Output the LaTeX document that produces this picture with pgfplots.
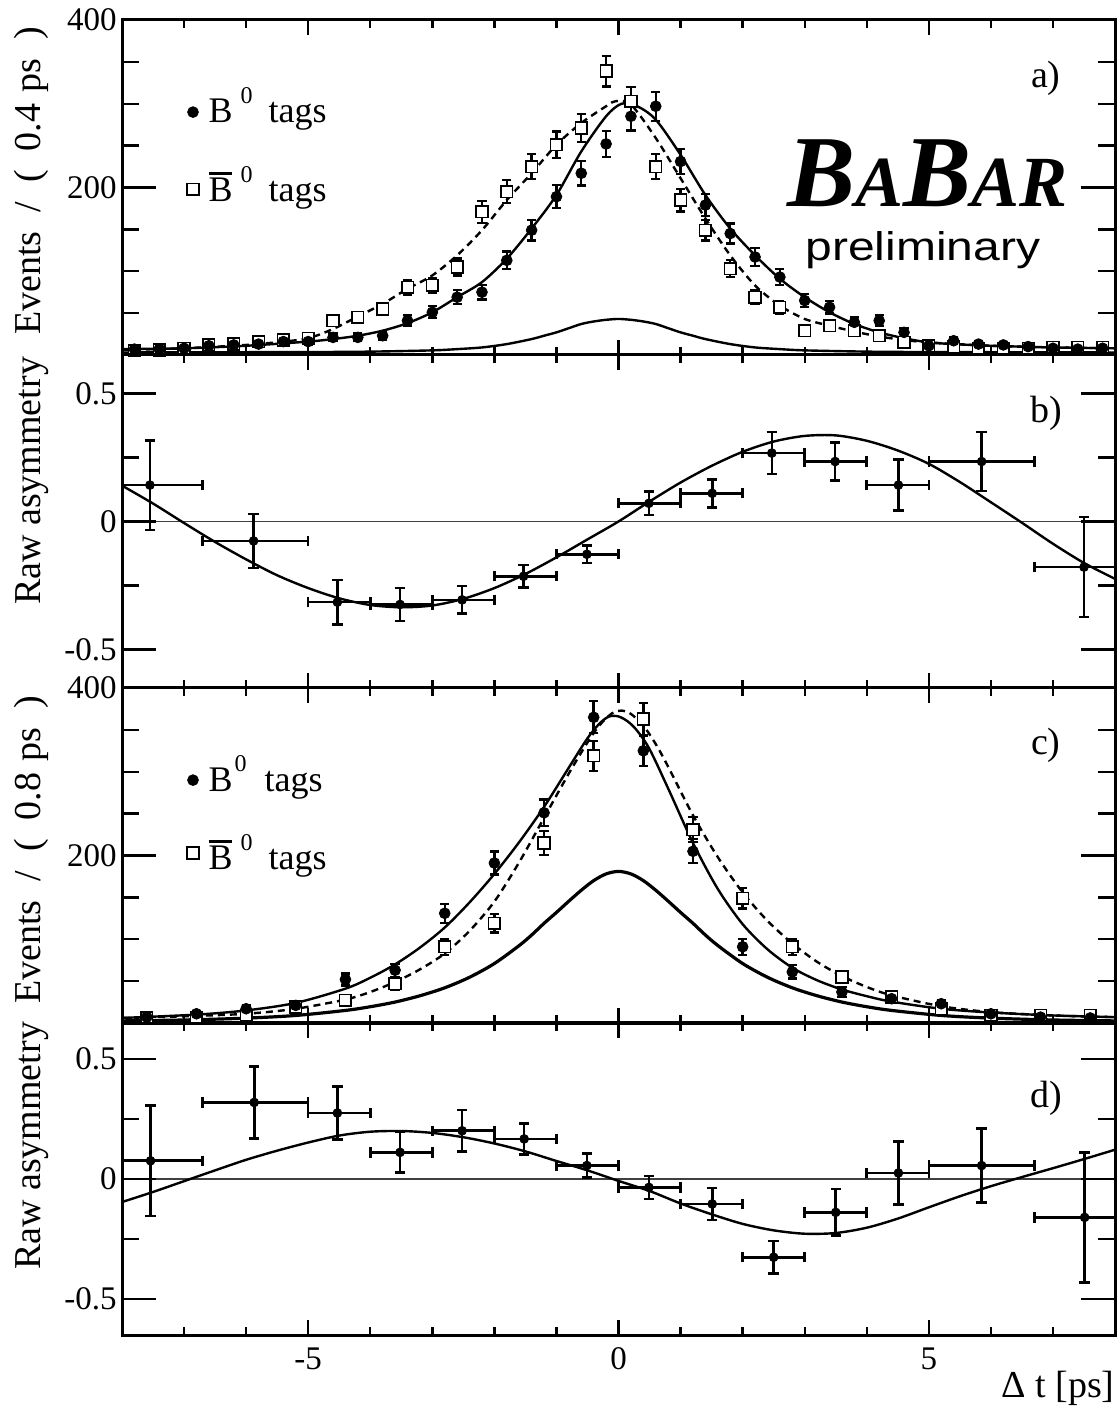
\documentclass[border=0pt]{standalone}
\usepackage{fontspec}
\setmainfont{Liberation Serif}
\newfontfamily\sansfont{Liberation Sans}
\usepackage{pgfplots}
\pgfplotsset{compat=1.18}
\newcommand\ticfont{\fontsize{16.5}{19}\selectfont}
\newcommand\lblfont{\fontsize{19}{22}\selectfont}
\newcommand\legfont{\fontsize{18}{21}\selectfont}
\newcommand\supz{\raisebox{0.55em}{\fontsize{12}{12}\selectfont 0}}
\newcommand\Bbar{\rlap{\rule[0.75em]{0.64em}{0.075em}}B}
\pgfplotsset{
  mainax/.style={scale only axis, width=496.5pt, xmin=-8, xmax=8, anchor=south west,
    xtick={-5,0,5}, minor xtick={-7,-6,-4,-3,-2,-1,1,2,3,4,6,7}, xticklabels={,,},
    ytick=\empty, major tick length=7.5pt, minor tick length=4pt,
    tick style={line width=1.2pt, black}, axis line style={line width=1.5pt},
    tick label style={font=\ticfont}},
  yax/.style={scale only axis, width=496.5pt, xmin=-8, xmax=8, anchor=south west,
    xtick=\empty, minor xtick={}, axis line style={draw=none},
    major tick length=17pt, minor tick length=8.5pt,
    tick style={line width=1.2pt, black},
    yticklabel style={font=\ticfont, inner sep=2.5pt}},
  curve/.style={line width=1.2pt, black, smooth, no markers},
  dcurve/.style={line width=1.2pt, black, smooth, no markers, dash pattern=on 3.5pt off 2.5pt},
  fpts/.style={only marks, mark=*, mark size=2.7pt, black,
    error bars/.cd, y dir=both, y explicit,
    error bar style={line width=1.2pt, black}, error mark options={rotate=90, mark size=2.3pt, line width=1.1pt, black}},
  opts/.style={only marks, mark=square*, mark size=2.9pt, black, mark options={fill=white, line width=0.8pt},
    error bars/.cd, y dir=both, y explicit,
    error bar style={line width=1.2pt, black}, error mark options={rotate=90, mark size=2.3pt, line width=1.1pt, black}},
  apts/.style={only marks, mark=*, mark size=2.2pt, black,
    error bars/.cd, y dir=both, y explicit, x dir=both, x explicit,
    error bar style={line width=1.3pt, black}, error mark options={rotate=90, mark size=2.6pt, line width=1.3pt, black}},
}
\begin{document}
\begin{tikzpicture}
\useasboundingbox (0,0) rectangle (558.5pt,703pt);

% ---------------- panel a ----------------
\begin{axis}[mainax, at={(61pt,525.5pt)}, height=167.5pt, ymin=0, ymax=400]
\addplot[curve] coordinates {(-8,3) (-5,3.5) (-4,4) (-3,5.5) (-2.6,7) (-2.2,9) (-1.8,13) (-1.4,19) (-1.2,23) (-1.0,27) (-0.8,32) (-0.6,37) (-0.4,40) (-0.2,42) (0,43) (0.2,42) (0.4,40) (0.6,37) (0.8,32) (1.0,27) (1.2,23) (1.4,19) (1.8,13) (2.2,9) (2.6,7) (3,5.5) (4,4) (5,3.5) (8,3)};
\addplot[curve] coordinates {(-8,7) (-7,8) (-6,11) (-5,16) (-4.6,19) (-4.2,23) (-3.8,29) (-3.4,38) (-3.0,51) (-2.6,69) (-2.2,87) (-1.8,115) (-1.4,151) (-1.0,191) (-0.6,243) (-0.2,285) (0.05,300) (0.3,297) (0.6,281) (1.0,239) (1.4,191) (1.8,151) (2.2,119) (2.6,91) (3.0,69) (3.4,51) (3.8,37) (4.2,27) (4.6,20) (5.0,15) (5.4,13) (6,11) (7,9) (8,8)};
\addplot[dcurve] coordinates {(-8,6) (-7,8) (-6,12) (-5.4,16) (-5,20) (-4.6,31) (-4.2,46) (-3.8,61) (-3.4,79) (-3.0,95) (-2.6,119) (-2.2,149) (-1.8,185) (-1.4,217) (-1.0,251) (-0.6,277) (-0.2,297) (-0.05,303) (0.2,299) (0.6,259) (1.0,211) (1.4,163) (1.8,119) (2.2,83) (2.6,59) (3.0,43) (3.4,35) (3.8,28) (4.2,22) (4.6,18) (5.0,15) (6,11) (7,9) (8,8)};
\addplot[opts] table[x=t, y=n, y error=e] {
t n e
-7.8 5 2.2
-7.4 6 2.4
-7.0 8 2.8
-6.6 12 3.5
-6.2 13 3.6
-5.8 16 4.0
-5.4 18 4.2
-5.0 20 4.5
-4.6 41 6.4
-4.2 45 6.7
-3.8 55 7.4
-3.4 81 9.0
-3.0 83 9.1
-2.6 105 10.2
-2.2 171 13.1
-1.8 195 14.0
-1.4 225 15.0
-1.0 251 15.8
-0.6 271 16.5
-0.2 339 18.4
0.2 303 17.4
0.6 225 15.0
1.0 185 13.6
1.4 149 12.2
1.8 103 10.1
2.2 69 8.3
2.6 57 7.5
3.0 29 5.4
3.4 35 5.9
3.8 29 5.4
4.2 23 4.8
4.6 15 3.9
5.0 11 3.3
5.4 10 3.2
5.8 8 2.8
6.2 8 2.8
6.6 8 2.8
7.0 9 3.0
7.4 9 3.0
7.8 9 3.0
};
\addplot[fpts] table[x=t, y=n, y error=e] {
t n e
-7.8 7 2.6
-7.4 7 2.6
-7.0 8 2.8
-6.6 11 3.3
-6.2 12 3.5
-5.8 13 3.6
-5.4 16 4.0
-5.0 16 4.0
-4.6 21 4.6
-4.2 21 4.6
-3.8 23 4.8
-3.4 41 6.4
-3.0 51 7.1
-2.6 69 8.3
-2.2 75 8.7
-1.8 113 10.6
-1.4 149 12.2
-1.0 189 13.7
-0.6 217 14.7
-0.2 252 15.9
0.2 285 16.9
0.6 297 17.2
1.0 231 15.2
1.4 179 13.4
1.8 145 12.0
2.2 117 10.8
2.6 93 9.6
3.0 65 8.1
3.4 57 7.5
3.8 39 6.2
4.2 41 6.4
4.6 27 5.2
5.0 11 3.3
5.4 17 4.1
5.8 13 3.6
6.2 12 3.5
6.6 10 3.2
7.0 8 2.8
7.4 7 2.6
7.8 8 2.8
};
\addplot[only marks, mark=*, mark size=2.7pt, black, forget plot] coordinates {(-6.856,290)};
\addplot[only marks, mark=square*, mark size=2.9pt, black, mark options={fill=white, line width=0.8pt}, forget plot] coordinates {(-6.856,198)};
\node[anchor=base west, font=\legfont, inner sep=0pt] at (axis cs:-6.61,277) {B\hspace{4pt}\supz\hspace{8pt}tags};
\node[anchor=base west, font=\legfont, inner sep=0pt] at (axis cs:-6.61,182.7) {\Bbar\hspace{4pt}\supz\hspace{8pt}tags};
\node[anchor=base east, font=\lblfont, inner sep=0pt] at (axis cs:7.13,319) {a)};
\node[anchor=base west, inner sep=0pt] at (axis cs:2.716,176.7) {\bfseries\itshape\fontsize{51}{51}\selectfont B\fontsize{36}{36}\selectfont A\fontsize{51}{51}\selectfont B\fontsize{36}{36}\selectfont AR};
\node[anchor=base west, inner sep=0pt] at (axis cs:3.006,113.4) {\scalebox{1.2}[1]{\sansfont\fontsize{20}{24}\selectfont preliminary}};
\end{axis}
\begin{axis}[yax, at={(61pt,525.5pt)}, height=167.5pt, ymin=0, ymax=400, ytick={0,200,400}, yticklabels={,200,400}, minor ytick={50,100,150,250,300,350}]
\end{axis}

% ---------------- panel b ----------------
\begin{axis}[mainax, at={(61pt,359pt)}, height=166.5pt, ymin=-0.65, ymax=0.65]
\addplot[line width=0.6pt, black!75] coordinates {(-8,0) (8,0)};
\addplot[curve] coordinates {(-8,0.140) (-7.5,0.070) (-7,-0.006) (-6.5,-0.080) (-6,-0.148) (-5.5,-0.21) (-5,-0.26) (-4.5,-0.30) (-4,-0.326) (-3.5,-0.335) (-3,-0.328) (-2.5,-0.302) (-2,-0.26) (-1.5,-0.205) (-1,-0.14) (-0.5,-0.07) (0,0.0) (0.5,0.078) (1,0.152) (1.5,0.217) (2,0.272) (2.5,0.312) (3,0.334) (3.5,0.336) (4,0.315) (4.5,0.277) (5,0.225) (5.5,0.154) (6,0.075) (6.5,-0.005) (7,-0.087) (7.5,-0.162) (8,-0.224)};
\addplot[apts] table[x=t, y=a, x error minus=xm, x error plus=xp, y error=ye] {
t a xm xp ye
-7.55 0.142 0.45 0.85 0.175
-5.88 -0.076 0.82 0.88 0.105
-4.53 -0.315 0.47 0.53 0.087
-3.52 -0.324 0.48 0.52 0.064
-2.52 -0.306 0.48 0.52 0.054
-1.53 -0.214 0.47 0.53 0.044
-0.51 -0.128 0.49 0.51 0.034
0.49 0.071 0.49 0.51 0.046
1.51 0.110 0.51 0.49 0.055
2.47 0.267 0.47 0.53 0.082
3.49 0.234 0.49 0.51 0.075
4.51 0.142 0.51 0.49 0.100
5.85 0.234 0.85 0.85 0.115
7.50 -0.178 0.80 0.50 0.195
};
\node[anchor=base east, font=\lblfont, inner sep=0pt] at (axis cs:7.16,0.388) {b)};
\end{axis}
\begin{axis}[yax, at={(61pt,359pt)}, height=166.5pt, ymin=-0.65, ymax=0.65, ytick={-0.5,0,0.5}, yticklabels={-0.5,0,0.5}, minor ytick={-0.25,0.25}]
\end{axis}

% ---------------- panel c ----------------
\begin{axis}[mainax, at={(61pt,191.5pt)}, height=167.5pt, ymin=0, ymax=400]
\addplot[curve, line width=1.6pt] coordinates {(-8,2.5) (-7,3.6) (-6,5.8) (-5.2,9) (-4.4,15) (-4.0,19.4) (-3.6,25) (-3.2,32.5) (-2.8,42) (-2.4,54.6) (-2.0,71) (-1.6,92.5) (-1.4,105) (-1.2,119) (-1.0,132) (-0.8,145.5) (-0.6,158.5) (-0.4,170) (-0.2,178) (0,181) (0.2,178) (0.4,170) (0.6,158.5) (0.8,145.5) (1.0,132) (1.2,119) (1.4,105) (1.6,92.5) (2.0,71) (2.4,54.6) (2.8,42) (3.2,32.5) (3.6,25) (4.0,19.4) (4.4,15) (5.2,9) (6,5.8) (7,3.6) (8,2.5)};
\addplot[dcurve, line width=0.8pt] coordinates {(-8,2.5) (-7,3.6) (-6,5.8) (-5.2,9) (-4.4,15) (-4.0,19.4) (-3.6,25) (-3.2,32.5) (-2.8,42) (-2.4,54.6) (-2.0,71) (-1.6,92.5) (-1.4,105) (-1.2,119) (-1.0,132) (-0.8,145.5) (-0.6,158.5) (-0.4,170) (-0.2,178) (0,181) (0.2,178) (0.4,170) (0.6,158.5) (0.8,145.5) (1.0,132) (1.2,119) (1.4,105) (1.6,92.5) (2.0,71) (2.4,54.6) (2.8,42) (3.2,32.5) (3.6,25) (4.0,19.4) (4.4,15) (5.2,9) (6,5.8) (7,3.6) (8,2.5)};
\addplot[curve] coordinates {(-8,6) (-6.8,10) (-6.0,15) (-5.2,24) (-4.4,41) (-4.0,54) (-3.6,70) (-3.2,90) (-2.8,114) (-2.4,144) (-2.0,178) (-1.6,216) (-1.2,258) (-0.8,305) (-0.5,340) (-0.3,358) (-0.15,366) (0,366) (0.15,360) (0.3,349) (0.5,327) (0.8,280) (1.2,215) (1.6,160) (2.0,118) (2.4,88) (2.8,66) (3.2,51) (3.6,40) (4.0,32) (4.4,25.5) (5.2,17) (6.0,12.5) (7,9) (8,7)};
\addplot[dcurve] coordinates {(-8,6) (-7,8) (-6,11) (-5.2,17) (-4.4,28) (-4.0,37) (-3.6,49) (-3.2,64) (-2.8,83) (-2.4,110) (-2.0,145) (-1.6,192) (-1.2,245) (-0.8,298) (-0.5,335) (-0.3,356) (-0.1,370) (0.05,373) (0.2,369) (0.4,355) (0.6,333) (0.8,306) (1.2,248) (1.6,198) (2.0,156) (2.4,122) (2.8,95) (3.2,73) (3.6,56) (4.0,43) (4.4,33) (5.2,20) (6,13) (7,9) (8,7)};
\addplot[opts] table[x=t, y=n, y error=e] {
t n e
-7.6 6 2.4
-6.8 7 2.6
-6.0 9 3.0
-5.2 19 4.4
-4.4 27 5.2
-3.6 47 6.9
-2.8 91 9.5
-2.0 119 10.9
-1.2 215 14.7
-0.4 319 17.9
0.4 363 19.1
1.2 231 15.2
2.0 149 12.2
2.8 91 9.5
3.6 55 7.4
4.4 31 5.6
5.2 17 4.1
6.0 9 3.0
6.8 9 3.0
7.6 9 3.0
};
\addplot[fpts] table[x=t, y=n, y error=e] {
t n e
-7.6 7 2.6
-6.8 11 3.3
-6.0 17 4.1
-5.2 21 4.6
-4.4 52 7.2
-3.6 63 7.9
-2.8 131 11.4
-2.0 191 13.8
-1.2 251 15.8
-0.4 365 19.1
0.4 325 18.0
1.2 205 14.3
2.0 91 9.5
2.8 61 7.8
3.6 37 6.1
4.4 29 5.4
5.2 23 4.8
6.0 11 3.3
6.8 7 2.6
7.6 6 2.4
};
\addplot[only marks, mark=*, mark size=2.7pt, black, forget plot] coordinates {(-6.856,290)};
\addplot[only marks, mark=square*, mark size=2.9pt, black, mark options={fill=white, line width=0.8pt}, forget plot] coordinates {(-6.856,203)};
\node[anchor=base west, font=\legfont, inner sep=0pt] at (axis cs:-6.61,277) {B\hspace{1pt}\supz\hspace{9pt}tags};
\node[anchor=base west, font=\legfont, inner sep=0pt] at (axis cs:-6.61,182.7) {\Bbar\hspace{4pt}\supz\hspace{8pt}tags};
\node[anchor=base east, font=\lblfont, inner sep=0pt] at (axis cs:7.13,320) {c)};
\end{axis}
\begin{axis}[yax, at={(61pt,191.5pt)}, height=167.5pt, ymin=0, ymax=400, ytick={0,200,400}, yticklabels={,200,400}, minor ytick={50,100,150,250,300,350}]
\end{axis}

% ---------------- panel d ----------------
\begin{axis}[mainax, at={(61pt,35.5pt)}, height=156pt, ymin=-0.65, ymax=0.65, xticklabels={-5,0,5}, xticklabel style={inner sep=6pt}]
\addplot[line width=0.6pt, black!75] coordinates {(-8,0) (8,0)};
\addplot[curve] coordinates {(-8,-0.096) (-7.5,-0.054) (-7,-0.009) (-6.5,0.036) (-6,0.08) (-5.5,0.118) (-5,0.152) (-4.5,0.181) (-4,0.197) (-3.5,0.2) (-3,0.192) (-2.5,0.174) (-2,0.148) (-1.5,0.115) (-1,0.075) (-0.5,0.036) (0,-0.008) (0.5,-0.05) (1,-0.102) (1.5,-0.147) (2,-0.187) (2.5,-0.214) (3,-0.228) (3.5,-0.225) (4,-0.203) (4.5,-0.165) (5,-0.118) (5.5,-0.072) (6,-0.03) (6.5,0.008) (7,0.045) (7.5,0.083) (8,0.122)};
\addplot[apts] table[x=t, y=a, x error minus=xm, x error plus=xp, y error=ye] {
t a xm xp ye
-7.54 0.076 0.46 0.84 0.23
-5.87 0.319 0.83 0.87 0.15
-4.53 0.275 0.47 0.53 0.11
-3.52 0.111 0.48 0.52 0.085
-2.52 0.201 0.48 0.52 0.087
-1.52 0.167 0.48 0.52 0.065
-0.51 0.056 0.49 0.51 0.05
0.49 -0.035 0.49 0.51 0.048
1.51 -0.104 0.51 0.49 0.066
2.50 -0.326 0.50 0.50 0.068
3.50 -0.139 0.50 0.50 0.097
4.51 0.025 0.51 0.49 0.132
5.85 0.056 0.85 0.85 0.154
7.51 -0.160 0.81 0.49 0.27
};
\node[anchor=base east, font=\lblfont, inner sep=0pt] at (axis cs:7.16,0.296) {d)};
\end{axis}
\begin{axis}[yax, at={(61pt,35.5pt)}, height=156pt, ymin=-0.65, ymax=0.65, ytick={-0.5,0,0.5}, yticklabels={-0.5,0,0.5}, minor ytick={-0.25,0.25}]
\end{axis}

% ---------------- outer labels ----------------
\node[rotate=90, anchor=base, font=\lblfont, inner sep=0pt] at (20pt,612.5pt) {Events\hspace{0.5em}/\hspace{0.5em}(\hspace{0.5em}0.4\hspace{0.3em}ps\hspace{0.5em})};
\node[rotate=90, anchor=base, font=\lblfont, inner sep=0pt] at (20pt,462.5pt) {Raw asymmetry};
\node[rotate=90, anchor=base, font=\lblfont, inner sep=0pt] at (20pt,278pt) {Events\hspace{0.5em}/\hspace{0.5em}(\hspace{0.5em}0.8\hspace{0.3em}ps\hspace{0.5em})};
\node[rotate=90, anchor=base, font=\lblfont, inner sep=0pt] at (20pt,130pt) {Raw asymmetry};
\node[anchor=base east, font=\lblfont, inner sep=0pt] at (557.5pt,4.5pt) {Δ t [ps]};
\end{tikzpicture}
\end{document}
